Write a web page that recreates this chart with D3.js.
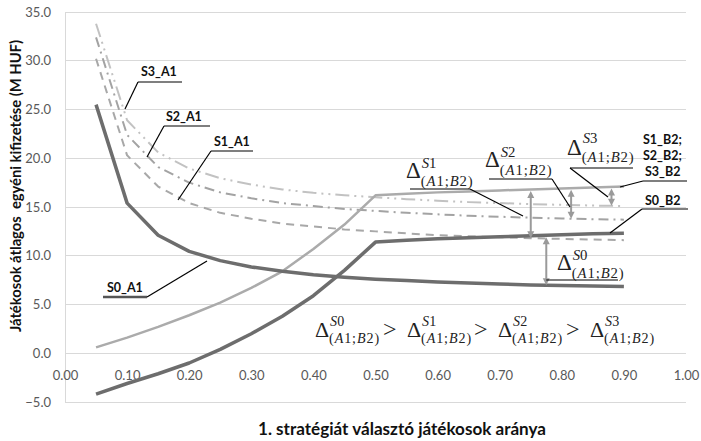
<!DOCTYPE html>
<html><head><meta charset="utf-8">
<script src="https://cdn.jsdelivr.net/npm/d3@7"></script>
<style>body{margin:0;background:#fff} svg{display:block}</style>
</head><body><svg id="c" width="701" height="441"></svg>
<script>
// ---- data ----
const xs      = [0.05,0.10,0.15,0.20,0.25,0.30,0.35,0.40,0.45,0.50,0.55,0.60,0.65,0.70,0.75,0.80,0.85,0.90];
const s0_A1   = [25.5,15.4,12.1,10.45,9.5,8.85,8.4,8.05,7.8,7.6,7.45,7.3,7.2,7.1,7.0,6.95,6.9,6.85];
const s1_A1   = [30.2,20.3,17.1,15.4,14.4,13.8,13.3,13.0,12.7,12.5,12.3,12.1,12.0,11.9,11.8,11.73,11.66,11.6];
const s2_A1   = [32.4,22.4,19.1,17.5,16.5,15.9,15.4,15.1,14.8,14.6,14.4,14.25,14.1,14.0,13.9,13.82,13.75,13.7];
const s3_A1   = [33.8,23.9,20.6,18.95,17.95,17.3,16.8,16.45,16.2,16.0,15.8,15.65,15.5,15.4,15.3,15.22,15.15,15.1];
const s0_B2   = [-4.2,-3.1,-2.1,-1.0,0.4,2.0,3.8,5.9,8.5,11.4,11.6,11.75,11.85,11.95,12.05,12.15,12.25,12.3];
const s123_B2 = [0.6,1.6,2.7,3.9,5.2,6.7,8.4,10.7,13.2,16.2,16.35,16.5,16.6,16.7,16.8,16.9,17.0,17.1];
const yTicks  = [-5,0,5,10,15,20,25,30,35];
const xTicks  = [0,0.1,0.2,0.3,0.4,0.5,0.6,0.7,0.8,0.9,1.0];
const yTitle  = "Játékosok átlagos  egyéni kifizetése (M HUF)";
const xTitle  = "1. stratégiát választó játékosok aránya";

const svg = d3.select("#c");
const x = d3.scaleLinear().domain([0,1]).range([65,686]);
const y = d3.scaleLinear().domain([-5,35]).range([402,12]);
const grid = "#d9d9d9";

// gridlines
svg.append("g").selectAll("line").data(yTicks).join("line")
  .attr("x1",x(0)).attr("x2",x(1)).attr("y1",d=>y(d)).attr("y2",d=>y(d))
  .attr("stroke",grid).attr("stroke-width",1).attr("shape-rendering","crispEdges");
svg.append("line").attr("x1",x(0)).attr("x2",x(0)).attr("y1",y(35)).attr("y2",y(-5))
  .attr("stroke",grid).attr("shape-rendering","crispEdges");

// y axis labels
const yAxis = d3.axisLeft(y).tickValues(yTicks).tickFormat(d3.format(".1f")).tickSize(0).tickPadding(14);
const ga = svg.append("g").attr("transform",`translate(${x(0)},0)`).call(yAxis);
ga.select(".domain").remove();
ga.selectAll("text").attr("font-family","Lato, sans-serif").attr("font-size",13).attr("fill","#595959");

// x axis labels (axis at y=0)
const xAxis = d3.axisBottom(x).tickValues(xTicks).tickFormat(d3.format(".2f")).tickSize(0).tickPadding(18);
const gx = svg.append("g").attr("transform",`translate(0,${y(0)})`).call(xAxis);
gx.select(".domain").remove();
gx.selectAll("text").attr("font-family","Lato, sans-serif").attr("font-size",13).attr("fill","#595959");

// series
const line = d3.line().x((d,i)=>x(xs[i])).y(d=>y(d));
const series = [
  {v:s3_A1, c:"#c2c2c2", w:2, dash:"14,5,2,5,2,5"},
  {v:s2_A1, c:"#a3a3a3", w:2, dash:"10,5,2,5"},
  {v:s1_A1, c:"#a8a8a8", w:2, dash:"8,6"},
  {v:s123_B2, c:"#ababab", w:2.5, dash:null},
  {v:s0_A1, c:"#6d6d6d", w:3.5, dash:null},
  {v:s0_B2, c:"#6d6d6d", w:3.5, dash:null}
];
series.forEach(s=>{
  svg.append("path").attr("d",line(s.v)).attr("fill","none")
    .attr("stroke",s.c).attr("stroke-width",s.w).attr("stroke-linejoin","round")
    .attr("stroke-dasharray",s.dash);
});

// helpers
function interp(arr, xv){
  for(let i=0;i<xs.length-1;i++){
    if(xv>=xs[i] && xv<=xs[i+1]){
      const t=(xv-xs[i])/(xs[i+1]-xs[i]); return arr[i]+(arr[i+1]-arr[i])*t;
    }
  }
  return arr[arr.length-1];
}
function seg(x1,y1,x2,y2,c="#000",w=1.2){
  svg.append("line").attr("x1",x1).attr("y1",y1).attr("x2",x2).attr("y2",y2)
    .attr("stroke",c).attr("stroke-width",w);
}
function label(txt,tx,ty){
  svg.append("text").attr("x",tx).attr("y",ty).text(txt)
    .attr("font-family","Lato, sans-serif").attr("font-weight","bold").attr("font-size",12.5).attr("fill","#111");
}
function arrow(xv, topArr, botArr, inset1=1.5, inset2=1.5){
  const px=x(xv), y1=y(interp(topArr,xv))+inset1, y2=y(interp(botArr,xv))-inset2;
  const c="#9a9a9a";
  seg(px,y1+4,px,y2-4,c,2);
  svg.append("path").attr("d",`M${px},${y1} L${px-3.5},${y1+7} L${px+3.5},${y1+7}Z`).attr("fill",c);
  svg.append("path").attr("d",`M${px},${y2} L${px-3.5},${y2-7} L${px+3.5},${y2-7}Z`).attr("fill",c);
  return {px,y1,y2};
}
function delta(dx, by, sup, size=23, supUp=10, subDown=8){
  const f="'Liberation Serif', 'DejaVu Serif', serif";
  svg.append("text").attr("x",dx).attr("y",by).text("Δ").attr("font-family",f).attr("font-size",size).attr("fill","#222");
  const sx=dx+size*0.64;
  const t1=svg.append("text").attr("x",sx+1).attr("y",by-supUp).attr("font-family",f).attr("font-size",size*0.64).attr("fill","#222");
  t1.append("tspan").attr("font-style","italic").text(sup[0]);
  t1.append("tspan").text(sup.slice(1));
  const t2=svg.append("text").attr("x",sx).attr("y",by+subDown).attr("font-family",f).attr("font-size",size*0.64)
    .attr("letter-spacing",0.9).attr("fill","#222");
  t2.append("tspan").text("(");
  t2.append("tspan").attr("font-style","italic").text("A");
  t2.append("tspan").text("1;");
  t2.append("tspan").attr("font-style","italic").text("B");
  t2.append("tspan").text("2)");
}

// series labels
label("S3_A1",141,76); seg(138,82,182,82); seg(138,82,125,109);
label("S2_A1",166,121); seg(164,126,210,126); seg(164,126,147,157);
label("S1_A1",214,146); seg(211,151,253,151); seg(211,151,178,200);
label("S0_A1",107,292); seg(103,297,147,297,"#555",2.5); seg(147,297,207,261);
label("S1_B2;",643,144); label("S2_B2;",643,160); label("S3_B2",645,176);
seg(643,181,687,181); seg(643,181,620,187);
label("S0_B2",645,205); seg(642,209,688,209); seg(642,209,610,233);

// arrows
const a0=arrow(0.775, s0_B2, s0_A1, 2, 0);
arrow(0.75, s123_B2, s1_A1, 1.5, 0);
arrow(0.815, s123_B2, s2_A1, 1.5, 0);
arrow(0.88, s123_B2, s3_A1, 1.5, 0);

// delta labels
delta(406,178,"S1"); seg(410,189,470,189); seg(470,189,523,216);
delta(485,167,"S2"); seg(489,179,552,179); seg(552,179,570,207);
delta(567,155,"S3",23,12,7); seg(570,168,633,168); seg(570,168,608,197);
delta(557,270,"S0"); seg(a0.px,280,618,280);

// inequality
[315,407,498,590].forEach((px,i)=>delta(px,337,"S"+i,22,11,6));
[383,474,566].forEach(px=>{
  svg.append("text").attr("x",px).attr("y",337).text(">").attr("font-family","'Liberation Serif', serif").attr("font-size",24).attr("fill","#222");
});

// axis titles
svg.append("text").attr("transform","translate(21,186) rotate(-90)").attr("text-anchor","middle")
  .attr("font-family","Lato, sans-serif").attr("font-weight","bold").attr("font-size",16).attr("fill","#111")
  .attr("textLength",292).attr("lengthAdjust","spacingAndGlyphs")
  .attr("xml:space","preserve").style("white-space","pre").text(yTitle);
svg.append("text").attr("x",402).attr("y",435).attr("text-anchor","middle")
  .attr("font-family","Lato, sans-serif").attr("font-weight","bold").attr("font-size",16.5).attr("fill","#111")
  .attr("textLength",288).attr("lengthAdjust","spacingAndGlyphs")
  .text(xTitle);
</script></body></html>
